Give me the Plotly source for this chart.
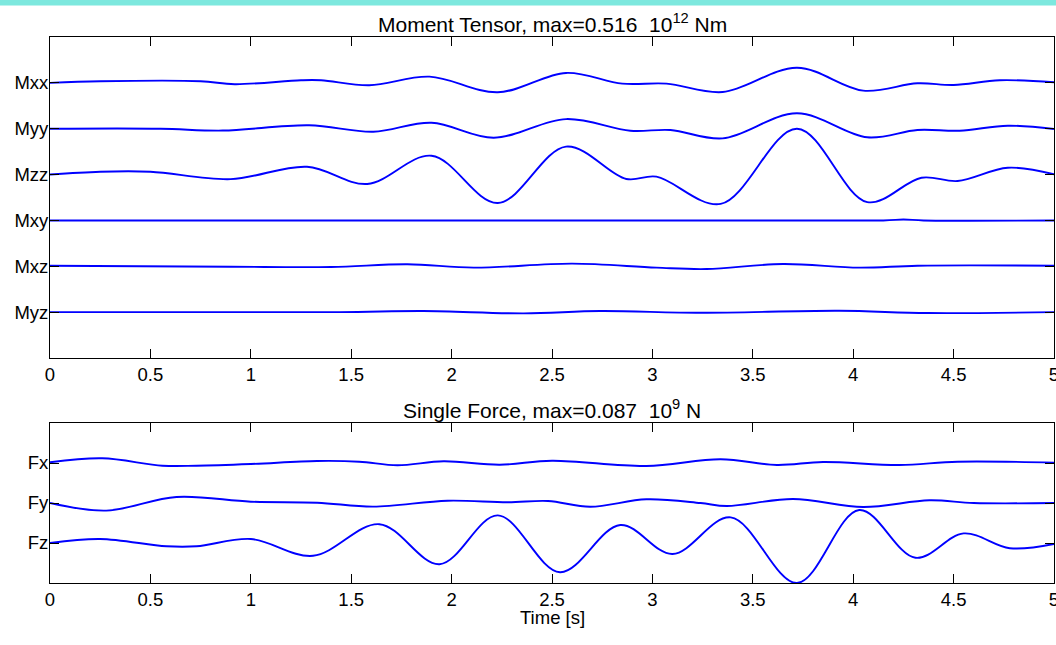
import plotly.graph_objects as go

# ---------------- data (normalised amplitudes) ----------------
MT_LABELS = ["Mxx", "Myy", "Mzz", "Mxy", "Mxz", "Myz"]
FORCE_LABELS = ["Fx", "Fy", "Fz"]
X_TICKS = [0, 0.5, 1, 1.5, 2, 2.5, 3, 3.5, 4, 4.5, 5]
X_TICK_TEXT = ["0", "0.5", "1", "1.5", "2", "2.5", "3", "3.5", "4", "4.5", "5"]

MXX_T = [0, 0.25, 0.75, 0.92, 1.25, 1.35, 1.59, 1.89, 2.23, 2.57, 2.85, 3.07, 3.35, 3.72, 4.05, 4.32, 4.50, 4.73, 5.0]
MXX_V = [0, 0.035, 0.035, -0.03, 0.057, 0.057, -0.052, 0.135, -0.205, 0.216, -0.017, -0.017, -0.2, 0.33, -0.17, -0.01, -0.046, 0.057, 0.013]

MYY_T = [0, 0.55, 0.86, 1.29, 1.61, 1.90, 2.21, 2.57, 2.89, 3.09, 3.35, 3.72, 4.07, 4.32, 4.53, 4.77, 5.0]
MYY_V = [0, 0, -0.04, 0.074, -0.065, 0.13, -0.196, 0.21, -0.044, -0.028, -0.21, 0.336, -0.187, -0.028, -0.044, 0.065, -0.007]

MZZ_T = [0, 0.25, 0.5, 0.90, 1.28, 1.58, 1.90, 2.23, 2.57, 2.87, 3.02, 3.34, 3.72, 4.07, 4.34, 4.52, 4.77, 5.0]
MZZ_V = [0, 0.063, 0.063, -0.10, 0.17, -0.205, 0.41, -0.62, 0.61, -0.096, -0.046, -0.64, 1.0, -0.60, -0.068, -0.14, 0.15, 0.007]

MXY_T = [0, 4.15, 4.25, 4.35, 5.0]
MXY_V = [0, 0, 0.02, 0, 0]

MXZ_T = [0, 0.9, 1.4, 1.78, 2.11, 2.60, 3.02, 3.27, 3.65, 4.03, 4.32, 5.0]
MXZ_V = [0.013, -0.01, -0.015, 0.044, -0.03, 0.057, -0.03, -0.06, 0.05, -0.03, 0.013, 0.013]

MYZ_T = [0, 1.44, 1.86, 2.36, 2.74, 3.24, 3.93, 4.37, 5.0]
MYZ_V = [0, 0, 0.024, -0.026, 0.024, -0.013, 0.03, -0.02, 0]

FX_T = [0, 0.26, 0.56, 0.73, 1.0, 1.33, 1.54, 1.73, 1.96, 2.24, 2.50, 2.97, 3.34, 3.62, 3.85, 4.23, 4.52, 5.0]
FX_V = [0.018, 0.117, -0.067, -0.067, -0.025, 0.05, 0.033, -0.057, 0.042, -0.042, 0.057, -0.075, 0.092, -0.05, 0.025, -0.05, 0.033, 0.008]

FY_T = [0, 0.28, 0.63, 1.0, 1.33, 1.61, 1.98, 2.28, 2.48, 2.69, 2.97, 3.24, 3.37, 3.70, 4.05, 4.38, 4.60, 5.0]
FY_V = [0, -0.19, 0.15, 0.033, 0.008, -0.09, 0.058, 0.018, 0.05, -0.092, 0.092, 0, -0.075, 0.1, -0.1, 0.068, 0, 0]

FZ_T = [0, 0.25, 0.58, 0.73, 1.0, 1.31, 1.64, 1.94, 2.23, 2.54, 2.84, 3.10, 3.39, 3.72, 4.03, 4.31, 4.55, 4.78, 5.0]
FZ_V = [0, 0.1, -0.083, -0.083, 0.1, -0.32, 0.47, -0.53, 0.69, -0.73, 0.45, -0.275, 0.64, -1.0, 0.825, -0.37, 0.24, -0.13, -0.025]

MT_TITLE = "Moment Tensor, max=0.516  10<sup>12</sup> Nm"
FORCE_TITLE = "Single Force, max=0.087  10<sup>9</sup> N"
X_LABEL = "Time [s]"

# ---------------- figure ----------------
FONT = "Liberation Sans, Arial, Helvetica, sans-serif"
BLUE = "rgb(0,0,255)"

fig = go.Figure()

mt_series = [(MXX_T, MXX_V), (MYY_T, MYY_V), (MZZ_T, MZZ_V),
             (MXY_T, MXY_V), (MXZ_T, MXZ_V), (MYZ_T, MYZ_V)]
n_mt = len(mt_series)
for i, (t, v) in enumerate(mt_series):
    off = n_mt - i
    fig.add_trace(go.Scatter(x=t, y=[off + a for a in v], mode="lines",
                             line=dict(color=BLUE, width=1.9, shape="spline", smoothing=1.0),
                             xaxis="x", yaxis="y", showlegend=False, hoverinfo="skip"))

f_series = [(FX_T, FX_V), (FY_T, FY_V), (FZ_T, FZ_V)]
n_f = len(f_series)
for i, (t, v) in enumerate(f_series):
    off = n_f - i
    fig.add_trace(go.Scatter(x=t, y=[off + a for a in v], mode="lines",
                             line=dict(color=BLUE, width=1.9, shape="spline", smoothing=1.0),
                             xaxis="x2", yaxis="y2", showlegend=False, hoverinfo="skip"))

axis_common = dict(showline=True, linecolor="black", linewidth=1, mirror="ticks",
                   ticks="inside", ticklen=9, tickwidth=1, tickcolor="black",
                   showgrid=False, zeroline=False, automargin=False,
                   ticklabeloverflow="allow",
                   tickfont=dict(family=FONT, size=18.5, color="black"))

fig.update_layout(
    width=1056, height=645,
    margin=dict(l=50, r=2, t=37, b=62, autoexpand=False),
    paper_bgcolor="white", plot_bgcolor="white",
    font=dict(family=FONT, color="black"),
    xaxis=dict(domain=[0, 1], range=[0, 5], anchor="y",
               tickvals=X_TICKS, ticktext=X_TICK_TEXT, **axis_common),
    yaxis=dict(domain=[225 / 546, 1], range=[0, n_mt + 1], anchor="x",
               tickvals=list(range(n_mt, 0, -1)), ticktext=MT_LABELS,
               ticklabelstandoff=-3, **axis_common),
    xaxis2=dict(domain=[0, 1], range=[0, 5], anchor="y2",
                tickvals=X_TICKS, ticktext=X_TICK_TEXT, **axis_common),
    yaxis2=dict(domain=[0, 160 / 546], range=[0, n_f + 1], anchor="x2",
                tickvals=list(range(n_f, 0, -1)), ticktext=FORCE_LABELS,
                ticklabelstandoff=-3, **axis_common),
)

fig.add_annotation(text=MT_TITLE, xref="x domain", yref="y domain", x=0.5, y=1,
                   xanchor="center", yanchor="bottom", showarrow=False, yshift=-1,
                   font=dict(family=FONT, size=21, color="black"))
fig.add_annotation(text=FORCE_TITLE, xref="x2 domain", yref="y2 domain", x=0.5, y=1,
                   xanchor="center", yanchor="bottom", showarrow=False, yshift=-1,
                   font=dict(family=FONT, size=21, color="black"))
fig.add_annotation(text=X_LABEL, xref="x2 domain", yref="y2 domain", x=0.5, y=0,
                   xanchor="center", yanchor="top", showarrow=False, yshift=-22,
                   font=dict(family=FONT, size=18.5, color="black"))

# cyan strip along the top edge of the window
fig.add_shape(type="rect", xref="paper", yref="paper",
              x0=-50 / 1004, x1=1006 / 1004, y0=577.5 / 546, y1=584 / 546,
              fillcolor="rgb(125,232,222)", line=dict(width=0), layer="above")

fig.write_html("out.html", config={"displayModeBar": False})

# remove the browser's default page margin so the figure sits at the window origin
with open("out.html", "r", encoding="utf-8") as fh:
    html = fh.read()
html = html.replace("<head>", "<head><style>html,body{margin:0;padding:0;overflow:hidden;}</style>", 1)
with open("out.html", "w", encoding="utf-8") as fh:
    fh.write(html)
